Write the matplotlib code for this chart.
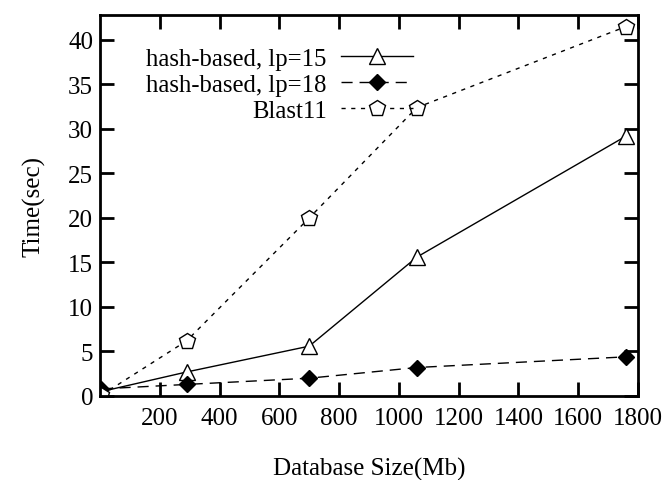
import numpy as np
import matplotlib.pyplot as plt

plt.rcParams['font.family'] = ['Liberation Serif', 'DejaVu Serif']

size_mb = [5, 290, 700, 1060, 1760]
lp15 = [0.5, 2.7, 5.6, 15.6, 29.2]
lp18 = [0.8, 1.3, 2.0, 3.2, 4.4]
blast11 = [0.1, 6.2, 20.0, 32.4, 41.5]

fig = plt.figure(figsize=(6.70, 4.81), dpi=100)
ax = fig.add_axes([100 / 670, 84 / 481, 538 / 670, 381 / 481])

ax.plot(size_mb, lp15, '-', color='black', lw=1, marker='^', ms=11,
        mfc='white', mec='black', label='hash-based, lp=15')
ax.plot(size_mb, lp18, color='black', lw=1, ls=(0, (8, 5)), marker='D', ms=8,
        mfc='black', mec='black', label='hash-based, lp=18')
ax.plot(size_mb, blast11, color='black', lw=1, ls=(0, (3, 4)), marker='p', ms=12,
        mfc='white', mec='black', label='Blast11')

ax.set_xlim(0, 1800)
ax.set_ylim(0, 42.8)
ax.set_xticks(np.arange(200, 1801, 200))
ax.set_yticks(np.arange(0, 41, 5))
ax.tick_params(direction='in', length=10, width=2, top=True, right=True,
               labelsize=18)
ax.tick_params(axis='x', pad=8)
ax.tick_params(axis='y', pad=5)
for s in ax.spines.values():
    s.set_linewidth(2)

ax.set_xlabel('Database Size(Mb)', fontsize=18, labelpad=20)
ax.set_ylabel('Time(sec)', fontsize=18, labelpad=16)

ax.legend(loc='upper right', bbox_to_anchor=(0.582, 0.914), frameon=False,
          markerfirst=False, fontsize=17.8, handlelength=2.9, labelspacing=0.15,
          handletextpad=0.6, borderpad=0, borderaxespad=0)

fig.savefig('out.png', dpi=100)
